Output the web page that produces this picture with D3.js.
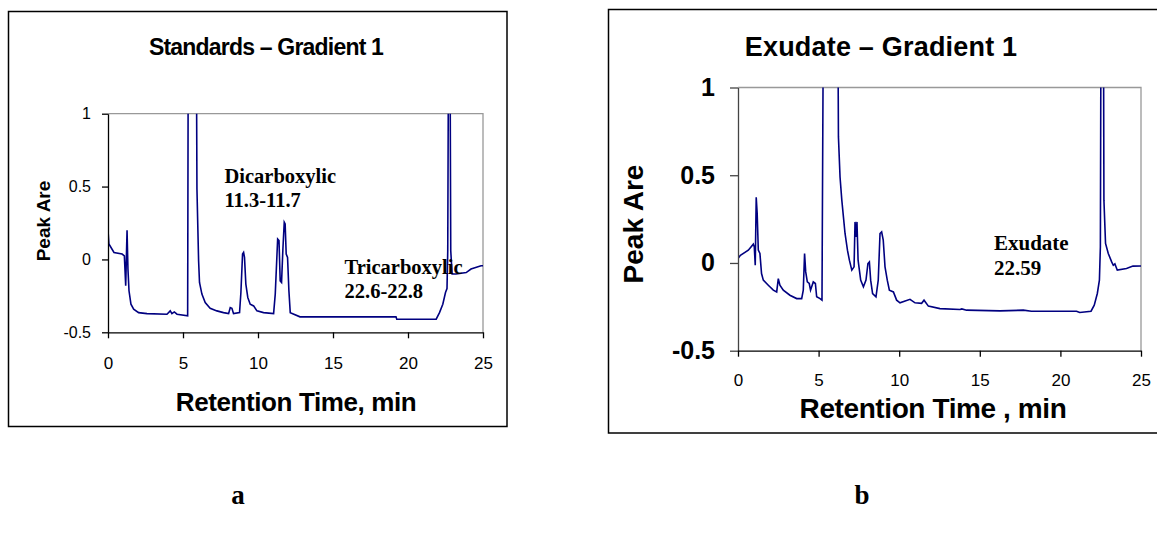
<!DOCTYPE html>
<html>
<head>
<meta charset="utf-8">
<script src="https://cdn.jsdelivr.net/npm/d3@7"></script>
<style>
  body { margin: 0; background: #fff; }
  svg { display: block; }
  .sans { font-family: "Liberation Sans", Arial, sans-serif; }
  .serif { font-family: "Liberation Serif", "Times New Roman", serif; font-weight: bold; }
</style>
</head>
<body>
<div id="chart"></div>
<script>
// axis ticks shared by both panels
const xTicks = [0, 5, 10, 15, 20, 25];
const yTicks = [-0.5, 0, 0.5, 1];

// panel a: standards, retention time (min) and signal
const stdTime = [0, 0.06, 0.4, 0.94, 1.09, 1.18, 1.27, 1.33, 1.4, 1.53, 1.71, 2.04, 2.6, 3.93, 4.15, 4.26, 4.42, 4.6, 5.31, 5.35,
  5.89, 5.93, 6.04, 6.1, 6.26, 6.48, 6.81, 7.26, 7.7, 8.04, 8.15, 8.26, 8.37, 8.77, 8.86, 8.97, 9.04, 9.1, 9.19, 9.32,
  9.48, 9.71, 9.93, 10.37, 11.04, 11.15, 11.31, 11.4, 11.48, 11.57, 11.66, 11.75, 11.81, 11.88, 11.97, 12.06, 12.15, 12.8,
  19.2, 19.25, 21.88, 22.1, 22.32, 22.5, 22.6, 22.65, 22.7, 22.8, 22.85, 22.94, 23.2, 23.88, 24.2, 24.87, 25];
const stdSignal = [0.2, 0.106, 0.048, 0.037, 0.025, -0.181, 0.2, -0.066, -0.215, -0.307, -0.341, -0.365, -0.372, -0.376, -0.353, -0.372, -0.36, -0.376, -0.387, 1.5,
  1.5, 0.484, -0.009, -0.158, -0.238, -0.296, -0.335, -0.353, -0.365, -0.372, -0.33, -0.335, -0.372, -0.365, -0.227, 0.037, 0.048, 0.014, -0.169, -0.261,
  -0.307, -0.319, -0.353, -0.365, -0.372, -0.238, 0.14, 0.129, -0.147, -0.158, 0.072, 0.255, 0.243, 0.037, 0.014, -0.215, -0.365, -0.394,
  -0.394, -0.41, -0.41, -0.365, -0.307, -0.227, -0.2, 0.06, 1.5, 1.5, 0.06, -0.1, -0.1, -0.09, -0.066, -0.043, -0.043];

// panel b: exudate
const exuTime = [0, 0.15, 0.64, 0.95, 1.01, 1.07, 1.13, 1.19, 1.26, 1.36, 1.46, 1.57, 1.88, 2.19, 2.4, 2.5, 2.6, 2.81, 3.22, 3.64,
  3.95, 4.05, 4.13, 4.2, 4.3, 4.42, 4.5, 4.67, 4.8, 4.88, 5.09, 5.21, 5.3, 6.19, 6.23, 6.33, 6.44, 6.54, 6.64, 6.79,
  6.91, 7.06, 7.2, 7.26, 7.33, 7.38, 7.45, 7.61, 7.78, 7.94, 8.06, 8.15, 8.23, 8.35, 8.56, 8.7, 8.81, 8.91, 9.01, 9.12,
  9.26, 9.39, 9.64, 9.84, 10.05, 10.67, 10.98, 11.39, 11.54, 11.81, 12.53, 13.77, 13.88, 14.18, 16.25, 17.7, 18.2, 21.0, 21.2, 21.9,
  22.1, 22.29, 22.42, 22.48, 22.52, 22.67, 22.7, 22.8, 22.97, 23.18, 23.28, 23.38, 23.53, 24.1, 24.5, 25];
const exuSignal = [0.026, 0.044, 0.073, 0.107, 0.092, -0.013, 0.374, 0.282, 0.073, 0.054, -0.06, -0.098, -0.127, -0.155, -0.165, -0.089, -0.127, -0.155, -0.184, -0.203,
  -0.203, -0.155, 0.054, -0.051, -0.108, -0.117, -0.155, -0.108, -0.117, -0.193, -0.203, -0.212, 1.5, 1.5, 0.72, 0.49, 0.358, 0.263, 0.168, 0.073,
  0.016, -0.041, -0.022, 0.234, 0.149, 0.234, 0.016, -0.098, -0.136, -0.098, -0.003, 0.006, -0.098, -0.174, -0.193, -0.098, 0.168, 0.177, 0.13, -0.022,
  -0.098, -0.155, -0.165, -0.212, -0.227, -0.207, -0.227, -0.23, -0.212, -0.246, -0.26, -0.265, -0.262, -0.269, -0.273, -0.269, -0.275, -0.275, -0.282, -0.275,
  -0.241, -0.174, -0.098, 0.092, 1.5, 1.5, 0.358, 0.111, 0.054, 0.006, -0.013, -0.005, -0.041, -0.032, -0.018, -0.017];

const svg = d3.select("#chart").append("svg")
  .attr("width", 1157)
  .attr("height", 533);

const lineColor = "#000080";

function panel(cfg) {
  const g = svg.append("g");

  // outer frame
  g.append("rect")
    .attr("x", cfg.box[0]).attr("y", cfg.box[1])
    .attr("width", cfg.box[2] - cfg.box[0]).attr("height", cfg.box[3] - cfg.box[1])
    .attr("fill", "none").attr("stroke", "#000").attr("stroke-width", 1.5);

  const x = d3.scaleLinear().domain([0, 25]).range([cfg.plot[0], cfg.plot[2]]);
  const y = d3.scaleLinear().domain([-0.5, 1]).range([cfg.plot[3], cfg.plot[1]]);

  // grey plot-area border top and right
  g.append("path")
    .attr("d", `M${x(0)},${y(1)}H${x(25)}V${y(-0.5)}`)
    .attr("fill", "none").attr("stroke", "#999").attr("stroke-width", 1.3);

  const clipId = "clip" + cfg.id;
  g.append("clipPath").attr("id", clipId)
    .append("rect")
    .attr("x", x(0)).attr("y", y(1))
    .attr("width", x(25) - x(0)).attr("height", y(-0.5) - y(1));

  const line = d3.line().x((d, i) => x(cfg.time[i])).y(d => y(d));
  g.append("path")
    .datum(cfg.signal)
    .attr("clip-path", `url(#${clipId})`)
    .attr("d", line)
    .attr("fill", "none").attr("stroke", lineColor).attr("stroke-width", 1.6);

  const yAxis = g.append("g")
    .attr("transform", `translate(${x(0)},0)`)
    .call(d3.axisLeft(y).tickValues(yTicks).tickSize(cfg.yTick).tickSizeOuter(0)
      .tickPadding(cfg.yPad).tickFormat(d => String(d)));
  yAxis.select(".domain").attr("stroke", cfg.yAxisColor).attr("stroke-width", 1.3);
  yAxis.selectAll(".tick line").attr("stroke", cfg.yAxisColor).attr("stroke-width", 1.3);
  yAxis.selectAll("text")
    .attr("class", "sans")
    .style("font-size", cfg.yFont + "px")
    .style("font-weight", cfg.yBold ? "bold" : "normal")
    .attr("fill", "#000");

  const xAxis = g.append("g")
    .attr("transform", `translate(0,${y(-0.5)})`)
    .call(d3.axisBottom(x).tickValues(xTicks).tickSize(6).tickSizeOuter(0).tickPadding(cfg.xPad));
  xAxis.select(".domain").attr("stroke", "#000").attr("stroke-width", 1.3);
  xAxis.selectAll(".tick line").attr("stroke", "#000").attr("stroke-width", 1.3);
  xAxis.selectAll("text")
    .attr("class", "sans")
    .style("font-size", "17px")
    .attr("fill", "#000");

  // title
  g.append("text")
    .attr("class", "sans")
    .attr("x", cfg.title[1]).attr("y", cfg.title[2])
    .attr("text-anchor", "middle")
    .style("font-size", cfg.title[3] + "px").style("font-weight", "bold")
    .style("letter-spacing", cfg.title[4] + "px")
    .text(cfg.title[0]);

  // x axis title
  g.append("text")
    .attr("class", "sans")
    .attr("x", cfg.xTitle[1]).attr("y", cfg.xTitle[2])
    .attr("text-anchor", "middle")
    .style("font-size", cfg.xTitle[3] + "px").style("font-weight", "bold")
    .style("letter-spacing", "-0.4px")
    .text(cfg.xTitle[0]);

  // y axis title
  g.append("text")
    .attr("class", "sans")
    .attr("transform", `translate(${cfg.yTitle[0]},${cfg.yTitle[1]}) rotate(-90)`)
    .attr("text-anchor", "middle")
    .style("font-size", cfg.yTitle[2] + "px").style("font-weight", "bold")
    .text("Peak Are");

  // annotations
  cfg.notes.forEach(n => {
    g.append("text")
      .attr("class", "serif")
      .attr("x", n[1]).attr("y", n[2])
      .style("font-size", n[3] + "px")
      .text(n[0]);
  });
}

panel({
  id: "a",
  box: [8.5, 11.5, 507, 426.5],
  plot: [108, 113.7, 483, 332.3],
  time: stdTime, signal: stdSignal,
  yTick: 6, yPad: 11, yFont: 16, yBold: false, yAxisColor: "#000",
  xPad: 19,
  title: ["Standards – Gradient 1", 266, 55, 23, -0.8],
  xTitle: ["Retention Time, min", 296, 410.5, 26],
  yTitle: [49.5, 221, 19],
  notes: [["Dicarboxylic", 224.5, 182.5, 20.5], ["11.3-11.7", 224.5, 207.3, 20.5],
          ["Tricarboxylic", 344.5, 274, 20.5], ["22.6-22.8", 344.5, 298.3, 20.5]]
});

panel({
  id: "b",
  box: [608.5, 9.5, 1200, 433],
  plot: [738, 87.5, 1141, 350.7],
  time: exuTime, signal: exuSignal,
  yTick: 8, yPad: 15, yFont: 25, yBold: true, yAxisColor: "#444",
  xPad: 17,
  title: ["Exudate – Gradient 1", 881, 56, 27, 0.2],
  xTitle: ["Retention Time , min", 933, 418, 28],
  yTitle: [642.5, 224, 28],
  notes: [["Exudate", 994, 250, 21], ["22.59", 994, 275, 21]]
});

// panel letters
svg.append("text").attr("class", "serif")
  .attr("x", 238).attr("y", 504).attr("text-anchor", "middle")
  .style("font-size", "27px").text("a");
svg.append("text").attr("class", "serif")
  .attr("x", 862).attr("y", 504).attr("text-anchor", "middle")
  .style("font-size", "27px").text("b");
</script>
</body>
</html>
